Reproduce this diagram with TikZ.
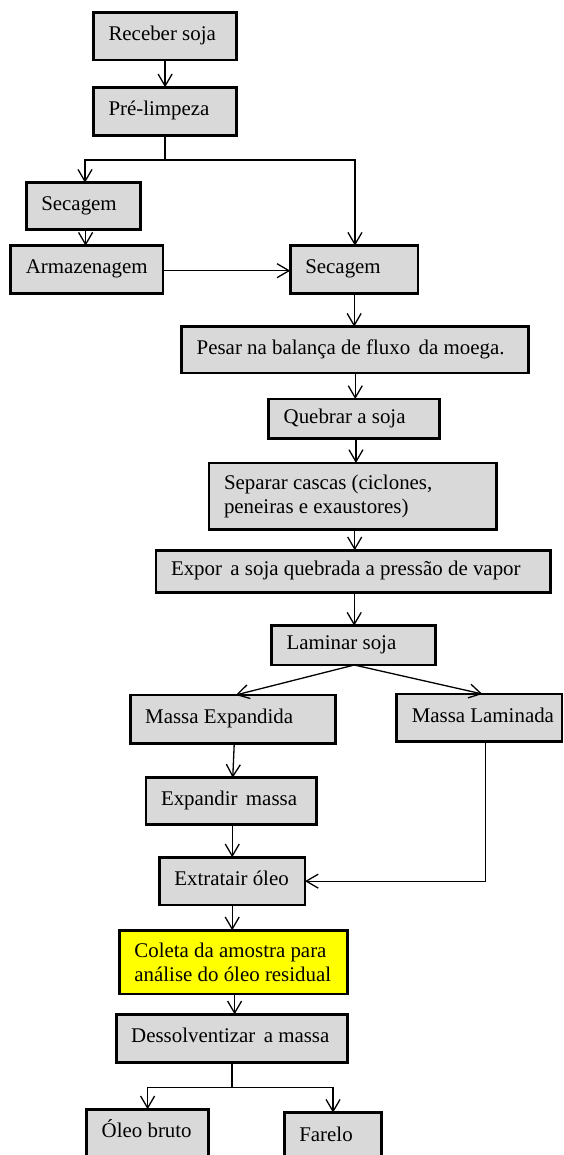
\documentclass[tikz,border=0pt]{standalone}
\usepackage{fontspec}
\setmainfont{Liberation Serif}
\usetikzlibrary{arrows.meta}
\newcommand\lbx[2]{\makebox[#1][l]{#2}}
\newcommand\xsp{\hspace{0.15em} }
\definecolor{boxgray}{HTML}{D9D9D9}
\definecolor{boxyellow}{HTML}{FFFF00}
\begin{document}
\begin{tikzpicture}[x=1pt,y=-1pt,
  base/.style={draw=black, line width=2.8pt, fill=boxgray, rectangle, anchor=north west,
    inner xsep=15pt, inner ysep=0pt, outer sep=0pt, font=\fontsize{20.9}{23.7}\selectfont},
  box/.style={base, text height=14pt, text depth=5pt},
  boxtwo/.style={base, align=left},
  conn/.style={line width=1.3pt},
  arr/.style={conn, -{Straight Barb[length=12pt,width=14pt]}}]
\fill[white] (0,0) rectangle (563,1155);
\useasboundingbox (0,0) rectangle (563,1155);
\clip (0,0) rectangle (563,1155);
% boxes
\node[box, minimum width=143.2pt, minimum height=47.7pt] (rec) at (93.5,12.3) {\lbx{113.2pt}{Receber soja}};
\node[box, minimum width=143.2pt, minimum height=48pt] (pre) at (93.5,87.3) {\lbx{113.2pt}{Pré-limpeza}};
\node[box, minimum width=114pt, minimum height=46.6pt] (secL) at (26.3,182.7) {\lbx{84pt}{Secagem}};
\node[box, minimum width=152.2pt, minimum height=47.6pt] (arm) at (10.8,245.7) {\lbx{122.2pt}{Armazenagem}};
\node[box, minimum width=127.7pt, minimum height=47.6pt] (secR) at (290.3,245.7) {\lbx{97.7pt}{Secagem}};
\node[box, minimum width=347.1pt, minimum height=46.3pt] (pes) at (181.7,326.7) {\lbx{317.1pt}{Pesar na balança de fluxo\xsp da moega.}};
\node[box, minimum width=170.5pt, minimum height=39.3pt] (que) at (268.7,399) {\lbx{140.5pt}{Quebrar a soja}};
\node[boxtwo, minimum width=287.4pt, minimum height=66.7pt] (sep) at (209,463) {\lbx{257.4pt}{Separar cascas (ciclones,}\\\lbx{257.4pt}{peneiras e exaustores)}};
\node[box, minimum width=394.4pt, minimum height=42pt] (exp) at (156,550.3) {\lbx{364.4pt}{Expor\xsp a soja quebrada a pressão de vapor}};
\node[box, minimum width=163.7pt, minimum height=39.3pt] (lam) at (271.6,625.7) {\lbx{133.7pt}{Laminar soja}};
\node[box, minimum width=205.1pt, minimum height=48.3pt] (mexp) at (130.2,695) {\lbx{175.1pt}{Massa Expandida}};
\node[box, minimum width=165.2pt, minimum height=47.5pt] (mlam) at (396.8,694) {\lbx{135.2pt}{Massa Laminada}};
\node[box, minimum width=170.5pt, minimum height=46.6pt] (expm) at (146,777.7) {\lbx{140.5pt}{Expandir\xsp massa}};
\node[box, minimum width=145.6pt, minimum height=47.7pt] (ext) at (159.4,857.3) {\lbx{115.6pt}{Extratair óleo}};
\node[boxtwo, fill=boxyellow, minimum width=228.4pt, minimum height=63.7pt] (col) at (119.4,930.3) {\lbx{198.4pt}{Coleta da amostra para}\\\lbx{198.4pt}{análise do óleo residual}};
\node[box, minimum width=231.6pt, minimum height=48pt] (des) at (116.2,1014.3) {\lbx{201.6pt}{Dessolventizar\xsp a massa}};
\node[box, minimum width=121.8pt, minimum height=48pt] (ole) at (86.7,1109.3) {\lbx{91.8pt}{Óleo bruto}};
\node[box, minimum width=97.5pt, minimum height=48pt] (far) at (284.3,1112.7) {\lbx{67.5pt}{Farelo}};
% junctions
\coordinate (j1) at (0,160);
\coordinate (j2) at (0,1087.3);
% connectors
\draw[arr] (rec.south) -- (pre.north);
\draw[conn] (pre.south) -- (pre.south |- j1);
\draw[arr] (pre.south |- j1) -| ([xshift=1.7pt]secL.north);
\draw[arr] (pre.south |- j1) -| ([xshift=0.8pt]secR.north);
\draw[arr] ([xshift=2.3pt]secL.south) -- ([xshift=2.3pt]secL.south |- arm.north);
\draw[arr] (arm.east |- 0,270.7) -- (secR.west |- 0,270.7);
\draw[arr] (secR.south) -- (secR.south |- pes.north);
\draw[arr] (pes.south) -- (pes.south |- que.north);
\draw[arr] ([xshift=2pt]que.south) -- ([xshift=2pt]que.south |- sep.north);
\draw[arr] ([xshift=2pt]sep.south) -- ([xshift=2pt]sep.south |- exp.north);
\draw[arr] ([xshift=1pt]exp.south) -- ([xshift=1pt]exp.south |- lam.north);
\draw[arr] ([xshift=0.8pt]lam.south) -- ([xshift=3pt]mexp.north);
\draw[arr] ([xshift=0.8pt]lam.south) -- ([xshift=3pt]mlam.north);
\draw[arr] ([xshift=1.5pt]mexp.south) -- ([xshift=1.5pt]expm.north);
\draw[arr] ([xshift=1pt]expm.south) -- ([xshift=1pt]expm.south |- ext.north);
\draw[arr] ([xshift=6pt]mlam.south) |- (ext.east);
\draw[arr] (ext.south) -- (ext.south |- col.north);
\draw[arr] ([xshift=1pt]col.south) -- ([xshift=1pt]col.south |- des.north);
\draw[conn] (des.south) -- (des.south |- j2);
\draw[arr] (des.south |- j2) -| (ole.north);
\draw[arr] (des.south |- j2) -| (far.north);
\end{tikzpicture}
\end{document}
